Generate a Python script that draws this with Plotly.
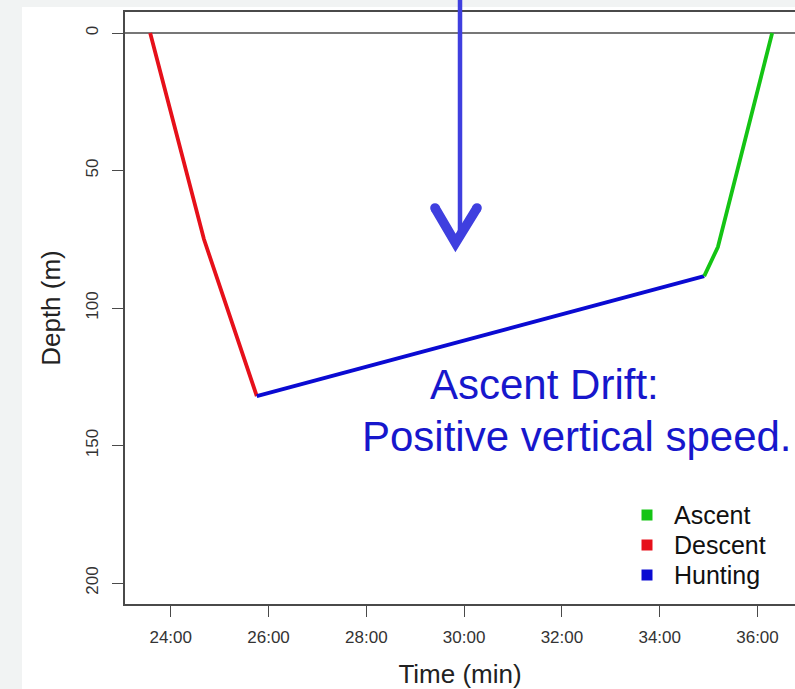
import plotly.graph_objects as go

# ---- data (time in minutes, depth in metres) ----
descent_time = [23.58, 24.68, 25.76]
descent_depth = [0, 75, 132]
hunting_time = [25.76, 34.91]
hunting_depth = [132, 88.4]
ascent_time = [34.91, 35.19, 36.30]
ascent_depth = [88.4, 77.8, 0]

x_ticks = [24, 26, 28, 30, 32, 34, 36]
x_ticktext = ["24:00", "26:00", "28:00", "30:00", "32:00", "34:00", "36:00"]
y_ticks = [0, 50, 100, 150, 200]

legend_names = ["Ascent", "Descent", "Hunting"]
colors = {"Ascent": "#14c414", "Descent": "#e6101a", "Hunting": "#0a0ad2"}

FONT = "Liberation Sans, Arial, sans-serif"

fig = go.Figure()

fig.add_trace(go.Scatter(x=descent_time, y=descent_depth, mode="lines", name="Descent",
                         line=dict(color=colors["Descent"], width=3.8), showlegend=False))
fig.add_trace(go.Scatter(x=hunting_time, y=hunting_depth, mode="lines", name="Hunting",
                         line=dict(color=colors["Hunting"], width=3.8), showlegend=False))
fig.add_trace(go.Scatter(x=ascent_time, y=ascent_depth, mode="lines", name="Ascent",
                         line=dict(color=colors["Ascent"], width=3.8), showlegend=False))

# plot area geometry (pixels) used for paper-coordinate decorations
L, R, T, B = 125, 795, 12, 604
W, H = R - L, B - T
def px(x):
    return (x - L) / W
def py(y):
    return (B - y) / H

ARROW = "#3f3fdf"
shapes = [
    # white panel over grey page
    dict(type="rect", xref="paper", yref="paper", x0=px(22), x1=px(800), y0=py(7), y1=py(700),
         fillcolor="white", line=dict(width=0), layer="below"),
    # zero line
    dict(type="line", xref="paper", yref="y", x0=0, x1=1, y0=0, y1=0,
         line=dict(color="#4a4a4a", width=1.3), layer="below"),
    # arrow shaft
    dict(type="line", xref="paper", yref="paper", x0=px(460), x1=px(460), y0=py(-2), y1=py(238),
         line=dict(color=ARROW, width=4.5)),
    # arrow head (chevron)
    dict(type="path", xref="paper", yref="paper",
         path=f"M {px(435)},{py(208)} L {px(455.5)},{py(243)} L {px(477)},{py(208)}",
         line=dict(color=ARROW, width=9.5)),
    dict(type="circle", xref="paper", yref="paper", x0=px(430.2), x1=px(439.8), y0=py(203.2), y1=py(212.8),
         fillcolor=ARROW, line=dict(width=0)),
    dict(type="circle", xref="paper", yref="paper", x0=px(472.2), x1=px(481.8), y0=py(203.2), y1=py(212.8),
         fillcolor=ARROW, line=dict(width=0)),
]

annotations = [
    dict(text="Ascent Drift:", xref="paper", yref="paper", x=px(428), y=py(384),
         xanchor="left", yanchor="middle", showarrow=False,
         font=dict(family=FONT, size=42, color="#1717cc")),
    dict(text="Positive vertical speed.", xref="paper", yref="paper", x=px(360), y=py(436),
         xanchor="left", yanchor="middle", showarrow=False,
         font=dict(family=FONT, size=42, color="#1717cc")),
]

# legend (R-style, drawn as square keys + labels)
legend_rows = [515, 545, 575]
for name, ry in zip(legend_names, legend_rows):
    shapes.append(dict(type="rect", xref="paper", yref="paper",
                       x0=px(641.5), x1=px(652.5), y0=py(ry - 5.5), y1=py(ry + 5.5),
                       fillcolor=colors[name], line=dict(width=0)))
    annotations.append(dict(text=name, xref="paper", yref="paper", x=px(672), y=py(ry),
                            xanchor="left", yanchor="middle", showarrow=False,
                            font=dict(family=FONT, size=25, color="#111")))

fig.update_layout(
    width=795, height=689,
    margin=dict(l=L, r=795 - R, t=T, b=689 - B),
    paper_bgcolor="#f1f3f3",
    plot_bgcolor="white",
    font=dict(family=FONT, color="#222"),
    shapes=shapes,
    annotations=annotations,
    showlegend=False,
    xaxis=dict(range=[23.065, 36.767], tickvals=x_ticks, ticktext=x_ticktext,
               showgrid=False, zeroline=False, showline=True, linecolor="#4a4a4a", linewidth=1.5,
               mirror=True, ticks="outside", ticklen=11, tickcolor="#4a4a4a", tickwidth=1.3,
               tickfont=dict(size=17, color="#333"), ticklabelstandoff=6,
               title=dict(text="Time (min)", font=dict(size=26, color="#222"), standoff=20)),
    yaxis=dict(range=[207.6, -7.64], tickvals=y_ticks, tickangle=-90,
               showgrid=False, zeroline=False, showline=True, linecolor="#4a4a4a", linewidth=1.5,
               mirror=False, ticks="outside", ticklen=11, tickcolor="#4a4a4a", tickwidth=1.3,
               tickfont=dict(size=17, color="#333"), ticklabelstandoff=7,
               title=dict(text="Depth (m)", font=dict(size=26, color="#222"), standoff=15)),
)

fig.write_html("out.html")
